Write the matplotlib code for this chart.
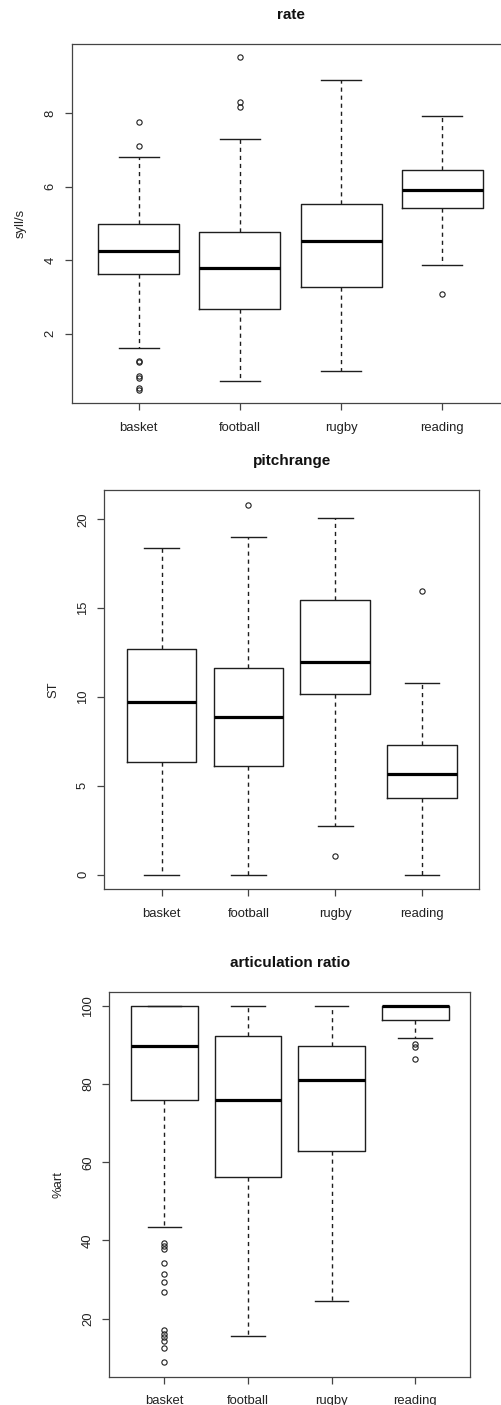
import matplotlib
matplotlib.use("Agg")
import matplotlib.pyplot as plt

plt.rcParams['font.family'] = ['Liberation Sans', 'DejaVu Sans']

groups = ["basket", "football", "rugby", "reading"]

# speech rate (syll/s)
rate_med = [4.26, 3.79, 4.53, 5.92]
rate_q1 = [3.61, 2.68, 3.27, 5.42]
rate_q3 = [4.98, 4.76, 5.52, 6.47]
rate_lo = [1.62, 0.72, 0.99, 3.86]
rate_hi = [6.80, 7.29, 8.91, 7.94]
rate_out = [[7.77, 7.10, 1.26, 1.22, 0.84, 0.78, 0.53, 0.47],
            [9.53, 8.31, 8.18],
            [],
            [3.08]]
rate_ticks = [2, 4, 6, 8]

# pitch range (ST)
pitch_med = [9.72, 8.86, 11.94, 5.68]
pitch_q1 = [6.32, 6.13, 10.19, 4.32]
pitch_q3 = [12.68, 11.60, 15.44, 7.31]
pitch_lo = [0.0, 0.0, 2.71, 0.0]
pitch_hi = [18.40, 19.00, 20.09, 10.81]
pitch_out = [[], [20.80], [1.03], [15.95]]
pitch_ticks = [0, 5, 10, 15, 20]

# articulation ratio (%art)
art_med = [89.8, 75.9, 81.0, 100.0]
art_q1 = [76.0, 56.35, 62.86, 96.5]
art_q3 = [100.0, 92.2, 89.65, 100.0]
art_lo = [43.47, 15.55, 24.6, 91.8]
art_hi = [100.0, 100.0, 100.0, 100.0]
art_out = [[39.3, 38.6, 37.8, 34.25, 31.35, 29.4, 26.8, 17.0, 16.0, 15.4, 14.3, 12.4, 8.8],
           [],
           [],
           [90.3, 89.5, 86.5]]
art_ticks = [20, 40, 60, 80, 100]

W, H = 501, 1405
fig = plt.figure(figsize=(W / 100, H / 100), dpi=100)
ink = "#1e1e1e"
axis_ink = "#444444"


def px_axes(left, top, right, bottom):
    return fig.add_axes([left / W, 1 - bottom / H, (right - left) / W, (bottom - top) / H])


def panel(rect, med, q1, q3, lo, hi, out, yticks, title, ylabel, ylabel_x):
    ax = px_axes(*rect)
    stats = [dict(med=m, q1=a, q3=b, whislo=l, whishi=h, fliers=f, label=g)
             for m, a, b, l, h, f, g in zip(med, q1, q3, lo, hi, out, groups)]
    ax.bxp(stats, positions=[1, 2, 3, 4], widths=0.8, capwidths=0.4,
           boxprops=dict(color=ink, lw=1.0),
           whiskerprops=dict(color=ink, lw=1.0, linestyle=(0, (3, 2.8))),
           capprops=dict(color=ink, lw=1.0),
           medianprops=dict(color="black", lw=2.3, solid_capstyle="butt"),
           flierprops=dict(marker="o", markersize=3.8, markerfacecolor="none",
                           markeredgecolor=ink, markeredgewidth=0.8))
    vals = lo + hi + [v for f in out for v in f]
    vmin, vmax = min(vals), max(vals)
    pad = 0.04 * (vmax - vmin)
    ax.set_ylim(vmin - pad, vmax + pad)
    ax.set_xlim(0.34, 4.66)
    ax.set_yticks(yticks)
    ax.set_yticklabels([str(t) for t in yticks], rotation=90, va="center")
    ax.tick_params(axis="both", length=5, width=0.9, color=axis_ink,
                   labelsize=9.4, labelcolor="#222222")
    ax.tick_params(axis="y", pad=6.0)
    ax.tick_params(axis="x", pad=8.5)
    for s in ax.spines.values():
        s.set_color(axis_ink)
        s.set_linewidth(0.9)
    ax.set_title(title, fontsize=11, fontweight="bold", pad=18.0, color="#111111")
    ax.set_ylabel(ylabel, fontsize=9.4, color="#222222", va="center")
    left, top, right, bottom = rect
    ax.yaxis.set_label_coords((ylabel_x - left) / (right - left), 0.5)
    return ax


panel((72, 44, 509, 403), rate_med, rate_q1, rate_q3, rate_lo, rate_hi, rate_out,
      rate_ticks, "rate", "syll/s", 21)
panel((104.3, 490.3, 479.3, 889.3), pitch_med, pitch_q1, pitch_q3, pitch_lo, pitch_hi,
      pitch_out, pitch_ticks, "pitchrange", "ST", 53)
panel((109.3, 991.7, 470.3, 1376.7), art_med, art_q1, art_q3, art_lo, art_hi, art_out,
      art_ticks, "articulation ratio", "%art", 59)

fig.savefig("out.png", dpi=100)
